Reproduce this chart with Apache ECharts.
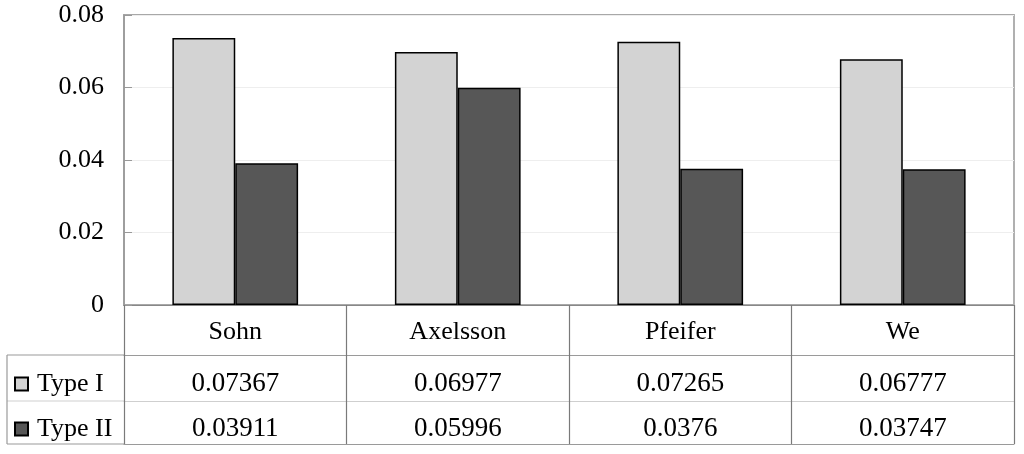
<!DOCTYPE html>
<html>
<head>
<meta charset="utf-8">
<script src="https://cdn.jsdelivr.net/npm/echarts@6/dist/echarts.min.js"></script>
<style>html,body{margin:0;padding:0;background:#fff}#c{width:1024px;height:454px}</style>
</head>
<body>
<div id="c"></div>
<script>
var categories = ['Sohn', 'Axelsson', 'Pfeifer', 'We'];
var seriesNames = ['Type I', 'Type II'];
var typeI = [0.07367, 0.06977, 0.07265, 0.06777];
var typeII = [0.03911, 0.05996, 0.0376, 0.03747];
var yTicks = [0, 0.02, 0.04, 0.06, 0.08];

var FONT = '"Liberation Serif", "Times New Roman", serif';
var chart = echarts.init(document.getElementById('c'), null, {renderer: 'canvas'});

var gridLeft = 124, gridRight = 10, gridTop = 15, gridBottom = 149;
var rowLine = '#9a9a9a';

function tableAxis(data, offset, tickLen, margin, lineColor, fs) {
  return {
    type: 'category',
    data: data,
    position: 'bottom',
    offset: offset,
    boundaryGap: true,
    axisLine: {show: true, onZero: false, lineStyle: {color: lineColor, width: 1.2}},
    axisTick: {show: tickLen > 0, length: tickLen, alignWithLabel: false, interval: 0, lineStyle: {color: '#7a7a7a', width: 1.2}},
    axisLabel: {show: data.length > 0, interval: 0, margin: margin, color: '#000', fontFamily: FONT, fontSize: fs},
    splitLine: {show: false}
  };
}

var option = {
  backgroundColor: '#fff',
  animation: false,
  grid: {left: gridLeft, right: gridRight, top: gridTop, bottom: gridBottom, show: true, borderColor: '#a8a8a8', borderWidth: 1.8, backgroundColor: 'transparent'},
  legend: {
    orient: 'vertical',
    left: 9,
    top: 366,
    itemWidth: 13,
    itemHeight: 13,
    itemGap: 19,
    icon: 'rect',
    data: seriesNames,
    textStyle: {color: '#000', fontFamily: FONT, fontSize: 26, padding: [0, 0, 0, 4]}
  },
  xAxis: [
    tableAxis(categories, 0, 50, 14, '#888888', 26),
    tableAxis(typeI.map(String), 50, 46, 15, rowLine, 27),
    tableAxis(typeII.map(String), 96, 43, 14, '#cfcfcf', 27),
    tableAxis(categories.map(function(){return '';}), 139, 0, 0, rowLine, 27)
  ],
  yAxis: {
    type: 'value',
    min: yTicks[0],
    max: yTicks[yTicks.length - 1],
    interval: 0.02,
    axisLine: {show: true, lineStyle: {color: '#999999', width: 1.5}},
    axisTick: {show: true, inside: true, length: 8, lineStyle: {color: '#999999'}},
    axisLabel: {color: '#000', fontFamily: FONT, fontSize: 26, margin: 20},
    splitLine: {show: true, lineStyle: {color: '#eeeeee', width: 1}}
  },
  series: [
    {
      name: seriesNames[0], type: 'bar', data: typeI, xAxisIndex: 0,
      barGap: '0%', barCategoryGap: '43.5%',
      itemStyle: {color: '#d3d3d3', borderColor: '#000', borderWidth: 1.5}
    },
    {
      name: seriesNames[1], type: 'bar', data: typeII, xAxisIndex: 0,
      barGap: '0%', barCategoryGap: '43.5%',
      itemStyle: {color: '#575757', borderColor: '#000', borderWidth: 1.5}
    }
  ],
  graphic: [
    {type: 'line', shape: {x1: 7, y1: 355, x2: gridLeft, y2: 355}, style: {stroke: rowLine, lineWidth: 1.2}, silent: true},
    {type: 'line', shape: {x1: 7, y1: 401, x2: gridLeft, y2: 401}, style: {stroke: '#cfcfcf', lineWidth: 1.2}, silent: true},
    {type: 'line', shape: {x1: 7, y1: 444, x2: gridLeft, y2: 444}, style: {stroke: rowLine, lineWidth: 1.2}, silent: true},
    {type: 'line', shape: {x1: 7, y1: 355, x2: 7, y2: 444}, style: {stroke: rowLine, lineWidth: 1.2}, silent: true}
  ]
};
chart.setOption(option);
</script>
</body>
</html>
